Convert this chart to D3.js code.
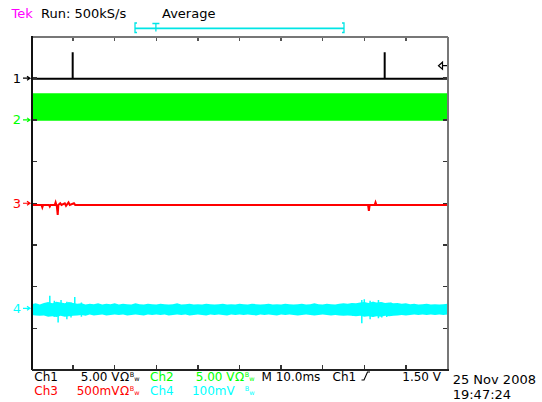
<!DOCTYPE html>
<html>
<head>
<meta charset="utf-8">
<script src="https://cdn.jsdelivr.net/npm/d3@7"></script>
<style>
body { margin: 0; background: #fff; }
svg { display: block; font-family: "DejaVu Sans", sans-serif; }
</style>
</head>
<body>
<div id="chart"></div>
<script>
// channel setup
var channelNames = ["1", "2", "3", "4"];
var channelColors = ["#000000", "#00ff00", "#ff0000", "#00ffff"];
var voltsPerDiv = [5, 5, 0.5, 0.1];
var groundDiv = [3, 2, 0, -2.52];

var timeDomain = [0, 100]; // ms (10 ms/div)
var triggerLevel = 1.5;    // V on ch1
var triggerPos = 0.1;      // fraction of record

// ch1: pulses (V)
var ch1Time = [0, 9.9, 9.9, 9.9, 84.9, 84.9, 84.9, 100];
var ch1Volt = [-0.08, -0.08, 3.1, -0.08, -0.08, 3.1, -0.08, -0.08];

// ch2: fast square wave, drawn as its envelope (V)
var ch2Time = [0, 100];
var ch2High = [3.2, 3.2];
var ch2Low = [-0.1, -0.1];

// ch3 (V)
var ch3Time = [0, 2.4, 2.6, 2.8, 4.2, 4.4, 4.6, 5.6, 5.8, 6.1, 6.3, 6.45, 6.9, 7.2, 8.0, 8.3, 8.9, 9.2, 10.2, 10.5, 80.9, 81.1, 81.3, 82.5, 82.7, 82.9, 100];
var ch3Volt = [-0.02, -0.02, -0.05, -0.02, -0.02, -0.04, -0.02, -0.02, 0.01, -0.04, -0.14, -0.02, 0.0, -0.02, 0.0, -0.03, 0.01, -0.02, 0.0, -0.02, -0.02, -0.09, -0.02, -0.02, 0.01, -0.02, -0.02];

// ch4: noise envelope, one sample per ms (mV)
var ch4High = [10,12,9,13,15,12,16,14,12,15,13,
  11,12,9,11,10,12,9,11,10,12,
  9,11,10,9,12,10,9,11,10,9,
  11,10,9,10,12,9,10,11,9,10,
  9,11,10,9,10,11,9,10,9,11,
  10,9,11,10,9,10,11,9,10,9,
  11,10,9,10,11,9,10,12,10,9,
  11,10,9,11,12,11,13,12,14,15,
  13,16,14,15,13,14,12,13,11,12,
  10,11,9,10,11,9,10,9,10,11];
var ch4Low = [-16,-17,-18,-17,-20,-19,-21,-18,-20,-19,-18,
  -17,-16,-18,-15,-17,-16,-15,-17,-16,-15,
  -16,-15,-17,-16,-15,-16,-17,-15,-16,-15,
  -16,-15,-17,-16,-15,-16,-15,-17,-16,-15,
  -16,-17,-15,-16,-15,-16,-17,-15,-16,-15,
  -16,-15,-16,-17,-15,-16,-15,-16,-17,-15,
  -16,-15,-16,-17,-16,-15,-16,-17,-16,-15,
  -16,-17,-16,-17,-18,-17,-18,-19,-18,-20,
  -19,-21,-19,-20,-18,-19,-18,-17,-16,-17,
  -16,-15,-16,-15,-16,-15,-16,-15,-16,-15];
var ch4Time = d3.range(0, ch4High.length);
var ch4SpikeTime = [4.4, 5.5, 6.4, 7.1, 8.5, 9.5, 10.4, 12.0, 77.2, 79.4, 80.0, 81.4, 82.2, 83.4, 84.2, 85.4, 86.4];
var ch4SpikeHigh = [30, 18, 12, 20, 16, 14, 27, 14, 10, 20, 22, 18, 16, 20, 14, 12, 14];
var ch4SpikeLow = [-10, -20, -34, -16, -26, -22, -14, -20, -18, -36, -18, -26, -20, -24, -22, -21, -18];

// readouts
var readoutNames = ["Ch1", "Ch2", "Ch3", "Ch4"];
var readoutScales = ["5.00 V", "5.00 V", "500mV", "100mV"];
var readoutOhm = [true, true, true, false];
var timebaseText = "M 10.0ms";
var triggerSource = "Ch1";
var triggerText = "1.50 V";
var dateText = ["25 Nov 2008", "19:47:24"];

var width = 542, height = 402;

var svg = d3.select("#chart").append("svg")
    .attr("width", width)
    .attr("height", height);

var x = d3.scaleLinear().domain(timeDomain).range([31.5, 447.5]);
var yDiv = d3.scaleLinear().domain([-4, 4]).range([370, 36.5]);

function yCh(i, v) { return yDiv(groundDiv[i] + v / voltsPerDiv[i]); }

svg.append("clipPath").attr("id", "screen")
  .append("rect")
    .attr("x", x(0)).attr("y", yDiv(4))
    .attr("width", x(100) - x(0)).attr("height", yDiv(-4) - yDiv(4));

/* graticule frame + edge ticks */
var frame = svg.append("g").attr("shape-rendering", "crispEdges");
var xTicks = d3.range(10, 100, 10);
var yTicks = d3.range(-3, 4);

frame.selectAll(".tt").data(xTicks).join("line")
    .attr("x1", d => x(d)).attr("x2", d => x(d))
    .attr("y1", yDiv(4)).attr("y2", yDiv(4) + 4)
    .attr("stroke", "#555").attr("stroke-width", 1.5);
frame.selectAll(".bt").data(xTicks).join("line")
    .attr("x1", d => x(d)).attr("x2", d => x(d))
    .attr("y1", yDiv(-4)).attr("y2", yDiv(-4) - 5)
    .attr("stroke", "#333").attr("stroke-width", 1.5);
frame.selectAll(".lt").data(yTicks).join("line")
    .attr("x1", x(0)).attr("x2", x(0) + 5)
    .attr("y1", d => yDiv(d)).attr("y2", d => yDiv(d))
    .attr("stroke", "#333").attr("stroke-width", 1.5);
frame.selectAll(".rt").data(yTicks).join("line")
    .attr("x1", x(100)).attr("x2", x(100) - 5)
    .attr("y1", d => yDiv(d)).attr("y2", d => yDiv(d))
    .attr("stroke", "#333").attr("stroke-width", 1.5);

/* traces */
var traces = svg.append("g").attr("clip-path", "url(#screen)");

// ch2 envelope
traces.append("path")
    .datum(d3.range(ch2Time.length))
    .attr("fill", channelColors[1])
    .attr("d", d3.area()
        .x(i => x(ch2Time[i]))
        .y0(i => yCh(1, ch2Low[i]))
        .y1(i => yCh(1, ch2High[i])));

// ch4 envelope + spikes
traces.append("path")
    .datum(d3.range(ch4Time.length))
    .attr("fill", channelColors[3])
    .attr("d", d3.area()
        .x(i => x(ch4Time[i]))
        .y0(i => yCh(3, ch4Low[i] / 1000))
        .y1(i => yCh(3, ch4High[i] / 1000)));
traces.selectAll(".spike").data(d3.range(ch4SpikeTime.length)).join("line")
    .attr("x1", i => x(ch4SpikeTime[i])).attr("x2", i => x(ch4SpikeTime[i]))
    .attr("y1", i => yCh(3, ch4SpikeLow[i] / 1000))
    .attr("y2", i => yCh(3, ch4SpikeHigh[i] / 1000))
    .attr("stroke", channelColors[3]).attr("stroke-width", 1.5);

// ch3
traces.append("path")
    .datum(d3.range(ch3Time.length))
    .attr("fill", "none").attr("stroke", channelColors[2]).attr("stroke-width", 2)
    .attr("d", d3.line().x(i => x(ch3Time[i])).y(i => yCh(2, ch3Volt[i])));

// ch1
traces.append("path")
    .datum(d3.range(ch1Time.length))
    .attr("fill", "none").attr("stroke", channelColors[0]).attr("stroke-width", 2)
    .attr("d", d3.line().x(i => x(ch1Time[i])).y(i => yCh(0, ch1Volt[i])));

// frame lines on top of traces
frame.raise();
frame.append("line").attr("x1", x(0)).attr("x2", x(100)).attr("y1", yDiv(4)).attr("y2", yDiv(4))
    .attr("stroke", "#777").attr("stroke-width", 2);
frame.append("line").attr("x1", x(100)).attr("x2", x(100)).attr("y1", yDiv(4)).attr("y2", yDiv(-4))
    .attr("stroke", "#777").attr("stroke-width", 2);
frame.append("line").attr("x1", x(0)).attr("x2", x(0)).attr("y1", yDiv(4) - 1).attr("y2", yDiv(-4))
    .attr("stroke", "#111").attr("stroke-width", 2);
frame.append("line").attr("x1", x(0)).attr("x2", x(100) + 1).attr("y1", yDiv(-4)).attr("y2", yDiv(-4))
    .attr("stroke", "#222").attr("stroke-width", 2);

/* ground markers on the left */
var markers = svg.append("g").selectAll("g").data(channelNames).join("g")
    .attr("transform", (d, i) => `translate(0,${yCh(i, 0)})`)
    .attr("fill", (d, i) => channelColors[i])
    .attr("stroke", (d, i) => channelColors[i]);
markers.append("text")
    .attr("x", 21).attr("y", 4.5)
    .attr("text-anchor", "end").attr("stroke", "none")
    .style("font-size", "13px")
    .text(d => d);
markers.append("path")
    .attr("fill", "none").attr("stroke-width", 1.2)
    .attr("d", "M23,0H30M27,-2L30,0L27,2");

// trigger level marker
var ty = yCh(0, triggerLevel);
svg.append("path")
    .attr("d", `M438.5,${ty}L442.5,${ty - 3.5}L442.5,${ty + 3.5}ZM442.5,${ty}H447`)
    .attr("fill", "#fff").attr("stroke", "#000").attr("stroke-width", 1.2);

/* header */
var header = svg.append("g").style("font-size", "13px");
header.append("text").attr("x", 11.5).attr("y", 17.5).attr("fill", "#ff00ff").text("Tek");
header.append("text").attr("x", 41).attr("y", 17.5).attr("fill", "#000").text("Run: 500kS/s");
header.append("text").attr("x", 162).attr("y", 17.5).attr("fill", "#000").text("Average");

// record view bracket
var rec = d3.scaleLinear().domain([0, 1]).range([135, 344]);
var bar = svg.append("g").attr("stroke", "#00e5e5").attr("fill", "none").attr("stroke-width", 1.3);
bar.append("path").attr("d", `M${rec(0) + 2},23H${rec(0)}V32.5H${rec(0) + 2}`);
bar.append("path").attr("d", `M${rec(1) - 2},23H${rec(1)}V32.5H${rec(1) - 2}`);
bar.append("line").attr("x1", rec(0)).attr("x2", rec(1)).attr("y1", 28.3).attr("y2", 28.3).attr("stroke-width", 1.8);
bar.append("path").attr("d", `M${rec(triggerPos) - 3.5},23.5H${rec(triggerPos) + 3.5}M${rec(triggerPos)},23.5V31.5`);

/* bottom readouts */
var rx = [34.3, 150, 34.3, 150];
var ry = [380.5, 380.5, 394.5, 394.5];
var readEnd = [139.5, 254.5, 139.5, 254.5];
var readouts = svg.append("g").style("font-size", "12px");
readoutNames.forEach(function(name, i) {
    var col = channelColors[i];
    readouts.append("text").attr("x", rx[i]).attr("y", ry[i]).attr("fill", col).text(name);
    // scale, coupling and bandwidth-limit glyph in one right-aligned text
    var t = readouts.append("text").attr("x", readEnd[i]).attr("y", ry[i])
        .attr("fill", col).attr("text-anchor", "end");
    t.append("tspan").text(readoutScales[i]);
    if (readoutOhm[i]) t.append("tspan").attr("dx", 0.5).text("\u03a9");
    t.append("tspan").attr("dx", readoutOhm[i] ? 0.5 : 10).attr("dy", -4)
        .style("font-size", "6.5px").text("B");
    t.append("tspan").attr("dy", 4)
        .style("font-size", "6.5px").text("w");
});
readouts.append("text").attr("x", 261.5).attr("y", 380.5).attr("fill", "#000").text(timebaseText);
readouts.append("text").attr("x", 332.5).attr("y", 380.5).attr("fill", "#000").text(triggerSource);
readouts.append("path").attr("d", "M361.5,380H364L367.5,372H370")
    .attr("fill", "none").attr("stroke", "#000").attr("stroke-width", 1.1);
readouts.append("text").attr("x", 441).attr("y", 380.5).attr("text-anchor", "end").attr("fill", "#000").text(triggerText);
readouts.append("text").attr("x", 452.7).attr("y", 383.5).attr("fill", "#000").style("font-size", "13px").text(dateText[0]);
readouts.append("text").attr("x", 452.7).attr("y", 399).attr("fill", "#000").style("font-size", "13px").text(dateText[1]);
</script>
</body>
</html>
